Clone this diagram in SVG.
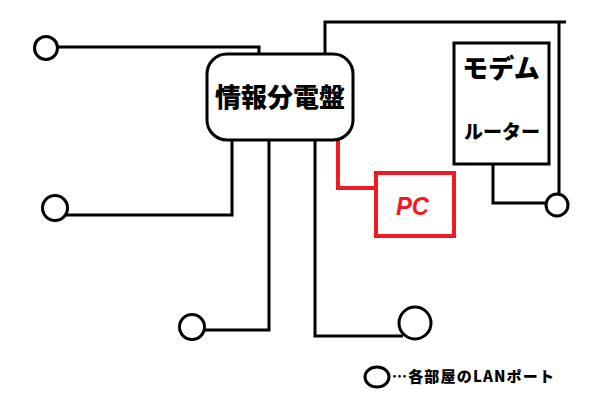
<svg xmlns="http://www.w3.org/2000/svg" width="600" height="400" viewBox="0 0 600 400">
<style>
.ln{fill:none;stroke:#000;stroke-width:3}
.red{fill:none;stroke:#ed1c24;stroke-width:4}
.port{fill:#fff;stroke:#000;stroke-width:3}
.t{font-family:"Noto Sans CJK JP","Noto Sans",sans-serif;font-weight:900;fill:#000}
</style>
<rect width="600" height="400" fill="#fff"/>
<g id="connectors">
<polyline class="ln" points="57,47 259,47 259,54"/>
<polyline class="ln" points="232,140 232,215 66,215"/>
<polyline class="ln" points="269,140 269,330 204,330"/>
<polyline class="ln" points="315,140 315,336 403,336"/>
<polyline class="ln" points="325,54 325,22 566,22"/>
<polyline class="ln" points="559,22 559,194"/>
<polyline class="ln" points="493,164 493,203 546,203"/>
<polyline class="red" points="338,140 338,188 378,188"/>
</g>
<g id="panel">
<rect x="207" y="54" width="146" height="86" rx="20" fill="#fff" stroke="#000" stroke-width="3"/>
<text class="t" x="280" y="107" font-size="26" text-anchor="middle">情報分電盤</text>
</g>
<g id="modem">
<rect x="454" y="43" width="95" height="121" fill="#fff" stroke="#000" stroke-width="3"/>
<text class="t" x="501" y="78" font-size="26" text-anchor="middle">モデム</text>
<text class="t" x="502" y="139" font-size="19" text-anchor="middle">ルーター</text>
</g>
<g id="pc">
<rect x="376" y="173" width="78" height="63" fill="#fff" stroke="#ed1c24" stroke-width="4"/>
<text x="396" y="215" font-family="'Liberation Sans',Arial,sans-serif" font-weight="bold" font-style="italic" font-size="25" fill="#ed1c24" textLength="33" lengthAdjust="spacingAndGlyphs">PC</text>
</g>
<g id="port1"><circle class="port" cx="46" cy="48" r="11.5"/></g>
<g id="port2"><circle class="port" cx="55" cy="208" r="12.5"/></g>
<g id="port3"><circle class="port" cx="192" cy="327" r="12.5"/></g>
<g id="port4"><circle class="port" cx="415" cy="323" r="16"/></g>
<g id="port5"><circle class="port" cx="557" cy="205" r="11"/></g>
<g id="legend">
<ellipse class="port" cx="377" cy="377" rx="12" ry="10"/>
<text class="t" x="392" y="382" font-size="15" textLength="162" lengthAdjust="spacing">…各部屋のLANポート</text>
</g>
</svg>
